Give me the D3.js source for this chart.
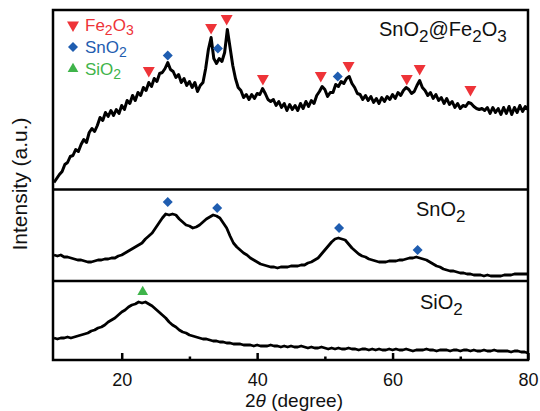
<!DOCTYPE html>
<html>
<head>
<meta charset="utf-8">
<script src="https://cdn.jsdelivr.net/npm/d3@7"></script>
<style>
  body { margin: 0; background: #fff; }
  text { font-family: Arial, "Liberation Sans", sans-serif; }
</style>
</head>
<body>
<svg id="vis" width="540" height="411"></svg>
<script>
// ---- data (intensity in a.u.) ----
// SnO2@Fe2O3, sampled from 10 deg every 0.4 deg
const compositeStart = 10, compositeStep = 0.4;
const compositeIntensity = [
  7, 11, 15, 18, 25, 27, 33, 34, 40, 38,
  45, 50, 47, 57, 61, 58, 64, 72, 69, 77,
  73, 79, 74, 80, 76, 84, 80, 89, 86, 94,
  89, 97, 94, 102, 99, 107, 103, 111, 108, 116,
  117, 121, 127, 120, 118, 112, 115, 107, 111, 104,
  108, 102, 107, 98, 104, 107, 121, 140, 152, 131,
  126, 131, 128, 137, 160, 142, 124, 111, 102, 99,
  92, 95, 90, 95, 91, 96, 95, 101, 96, 90,
  88, 90, 84, 88, 82, 86, 79, 85, 80, 84,
  79, 86, 81, 88, 83, 89, 86, 94, 98, 103,
  100, 93, 97, 97, 105, 103, 108, 106, 111, 113,
  106, 102, 96, 95, 90, 94, 89, 93, 87, 91,
  86, 92, 88, 93, 90, 95, 91, 97, 94, 99,
  102, 100, 96, 98, 104, 109, 102, 99, 94, 97,
  91, 95, 89, 92, 86, 91, 85, 88, 82, 86,
  81, 84, 83, 87, 86, 83, 81, 80, 81, 79,
  82, 76, 82, 77, 81, 75, 82, 76, 83, 75,
  82, 77, 84, 78, 83, 80
];

// SnO2, sampled from 10 deg every 0.5 deg
const snStart = 10, snStep = 0.5;
const snIntensity = [
  26, 25, 26, 24, 24, 23, 22, 21, 21, 20,
  19, 19, 20, 21, 21, 22, 22, 23, 23, 25,
  26, 28, 30, 32, 34, 36, 38, 42, 45, 48,
  53, 58, 63, 67, 66, 67, 66, 62, 59, 56,
  55, 53, 54, 56, 59, 62, 64, 66, 65, 63,
  58, 53, 45, 38, 34, 31, 28, 26, 23, 21,
  19, 17, 16, 15, 14, 14, 13, 14, 14, 14,
  15, 15, 15, 16, 16, 18, 19, 21, 23, 27,
  31, 35, 39, 42, 43, 42, 41, 37, 33, 30,
  27, 25, 24, 22, 21, 20, 19, 19, 19, 20,
  20, 20, 21, 21, 22, 23, 23, 24, 23, 22,
  21, 19, 17, 15, 14, 12, 11, 10, 10, 9,
  8, 8, 7, 7, 6, 6, 6, 5, 6, 5,
  5, 5, 5, 6, 6, 6, 7, 7, 7, 7,
  7
];

// SiO2, sampled from 10 deg every 0.5 deg
const siStart = 10, siStep = 0.5;
const siIntensity = [
  22, 21, 22, 22, 23, 22, 23, 24, 25, 26,
  27, 29, 30, 32, 33, 35, 38, 40, 42, 45,
  48, 50, 53, 55, 56, 58, 57, 58, 56, 54,
  51, 48, 45, 42, 38, 35, 33, 30, 28, 27,
  25, 24, 23, 22, 21, 21, 20, 19, 19, 18,
  18, 17, 17, 16, 16, 16, 15, 15, 15, 14,
  15, 14, 14, 14, 15, 14, 14, 13, 14, 13,
  14, 13, 13, 14, 13, 12, 13, 12, 12, 13,
  12, 11, 12, 11, 12, 11, 11, 12, 11, 11,
  10, 11, 11, 10, 11, 10, 11, 10, 10, 11,
  10, 11, 10, 10, 11, 10, 9, 10, 10, 10,
  11, 10, 10, 9, 10, 10, 10, 9, 10, 10,
  9, 10, 10, 9, 10, 9, 9, 10, 9, 9,
  10, 9, 9, 9, 9, 8, 9, 9, 8, 8,
  7
];

// reflection markers: 2theta and marker height (a.u.)
const feTopTheta = [24.0, 33.2, 35.5, 40.85, 49.4, 53.5, 62.1, 64.0, 71.5];
const feTopHeight = [119, 162, 171, 111, 114, 124, 111, 121, 100];
const snTopTheta = [26.8, 34.2, 51.9];
const snTopHeight = [134, 141, 113];
const snMidTheta = [26.8, 34.1, 52.1, 63.7];
const snMidHeight = [79, 73, 53, 31];
const siTheta = [23.1];
const siHeight = [68];

const xMajorTicks = [20, 40, 60, 80];
const xMinorTicks = [30, 50, 70];
const legendLabels = ["Fe2O3", "SnO2", "SiO2"];

// ---- layout ----
const colors = { fe: "#ee3338", sn: "#1f5db0", si: "#3fb44a" };
const frame = { left: 53, right: 528, top: 10, bottom: 360 };
const panels = [
  { top: 10, bottom: 189.5, max: 179.5 },
  { top: 189.5, bottom: 281, max: 91.5 },
  { top: 281, bottom: 360, max: 79 }
];

const svg = d3.select("svg#vis");

const x = d3.scaleLinear().domain([10, 80]).range([54, 528]);
const yScales = panels.map(p => d3.scaleLinear().domain([0, p.max]).range([p.bottom, p.top]));

function series(start, step, values) {
  return values.map((v, i) => ({ t: start + step * i, v: v }));
}

function addFormula(text, str, size, subSize, shift) {
  let down = false;
  str.match(/\d+|\D+/g).forEach(function(part) {
    const sub = /^\d+$/.test(part);
    const t = text.append("tspan").text(part).style("font-size", (sub ? subSize : size) + "px");
    if (sub && !down) { t.attr("dy", shift); down = true; }
    else if (!sub && down) { t.attr("dy", -shift); down = false; }
  });
}

const triDown = d3.symbol().type(d3.symbolTriangle).size(62);
const triUp = d3.symbol().type(d3.symbolTriangle).size(50);
const diamond = d3.symbol().type(d3.symbolSquare).size(50);

// curves
const curves = [
  series(compositeStart, compositeStep, compositeIntensity),
  series(snStart, snStep, snIntensity),
  series(siStart, siStep, siIntensity)
];
const widths = [3, 2.8, 2.8];

curves.forEach(function(data, i) {
  const line = d3.line().x(d => x(d.t)).y(d => yScales[i](d.v));
  svg.append("path")
    .attr("d", line(data))
    .attr("fill", "none")
    .attr("stroke", "#000")
    .attr("stroke-width", widths[i])
    .attr("stroke-linejoin", "round");
});

// markers
function drawMarkers(thetas, heights, panel, gen, color, rotate) {
  svg.append("g").selectAll("path")
    .data(thetas.map((t, i) => ({ t: t, h: heights[i] })))
    .enter()
    .append("path")
    .attr("d", gen())
    .attr("fill", color)
    .attr("transform", d => "translate(" + x(d.t) + "," + yScales[panel](d.h) + ") rotate(" + rotate + ")");
}

drawMarkers(feTopTheta, feTopHeight, 0, triDown, colors.fe, 180);
drawMarkers(snTopTheta, snTopHeight, 0, diamond, colors.sn, 45);
drawMarkers(snMidTheta, snMidHeight, 1, diamond, colors.sn, 45);
drawMarkers(siTheta, siHeight, 2, triUp, colors.si, 0);

// frame and panel dividers
svg.append("rect")
  .attr("x", frame.left).attr("y", frame.top)
  .attr("width", frame.right - frame.left).attr("height", frame.bottom - frame.top)
  .attr("fill", "none").attr("stroke", "#000").attr("stroke-width", 2.5);

[panels[1].top, panels[2].top].forEach(function(yy) {
  svg.append("line")
    .attr("x1", frame.left).attr("x2", frame.right)
    .attr("y1", yy).attr("y2", yy)
    .attr("stroke", "#000").attr("stroke-width", 2.5);
});

// x axis (ticks pointing inward)
const major = svg.append("g")
  .attr("transform", "translate(0," + frame.bottom + ")")
  .call(d3.axisBottom(x).tickValues(xMajorTicks).tickSize(-7).tickPadding(13));
major.select(".domain").remove();
major.selectAll("line").attr("stroke-width", 2.5);
major.selectAll("text").style("font-size", "18px").attr("fill", "#111");

const minor = svg.append("g")
  .attr("transform", "translate(0," + frame.bottom + ")")
  .call(d3.axisBottom(x).tickValues(xMinorTicks).tickSize(-3.5).tickFormat(""));
minor.select(".domain").remove();
minor.selectAll("line").attr("stroke-width", 2.5);

// axis titles
const xTitle = svg.append("text")
  .attr("x", 294).attr("y", 407)
  .attr("text-anchor", "middle")
  .style("font-size", "19px")
  .attr("fill", "#111");
xTitle.append("tspan").text("2");
xTitle.append("tspan").text("\u03B8").style("font-style", "italic");
xTitle.append("tspan").text(" (degree)");

svg.append("text")
  .attr("transform", "translate(27,184) rotate(-90)")
  .attr("text-anchor", "middle")
  .style("font-size", "21px")
  .attr("fill", "#111")
  .text("Intensity (a.u.)");

// legend
const legendColors = [colors.fe, colors.sn, colors.si];
const legendGens = [triDown, diamond, triUp];
const legendRot = [180, 45, 0];
legendLabels.forEach(function(label, i) {
  const cy = 25 + i * 22;
  svg.append("path")
    .attr("d", legendGens[i]())
    .attr("fill", legendColors[i])
    .attr("transform", "translate(73," + cy + ") rotate(" + legendRot[i] + ")");
  const t = svg.append("text")
    .attr("x", 85).attr("y", cy + 6)
    .attr("fill", legendColors[i]);
  addFormula(t, label, 17, 14, 4);
});

// sample labels
const s1 = svg.append("text").attr("x", 379).attr("y", 36).attr("fill", "#111");
addFormula(s1, "SnO2@Fe2O3", 20, 17, 6);
const s2 = svg.append("text").attr("x", 416).attr("y", 216).attr("fill", "#111");
addFormula(s2, "SnO2", 20, 17, 6);
const s3 = svg.append("text").attr("x", 420).attr("y", 309).attr("fill", "#111");
addFormula(s3, "SiO2", 20, 17, 6);
</script>
</body>
</html>
